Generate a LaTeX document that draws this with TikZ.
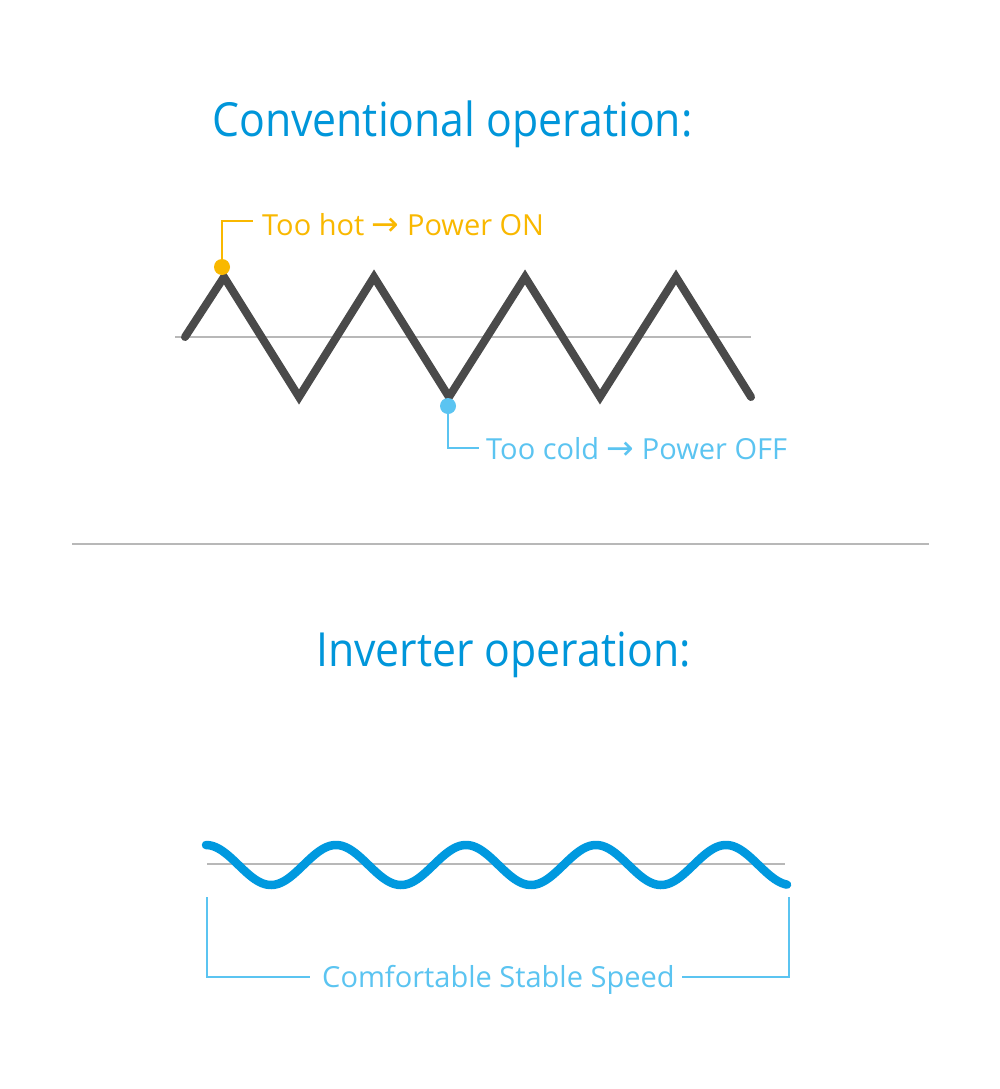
\documentclass[tikz,border=0pt]{standalone}
\usepackage{fontspec}
\setmainfont{Open Sans}
\newfontfamily\titlefont[FakeStretch=0.91]{Open Sans}
\newfontfamily\arrowfont{DejaVu Sans}
\definecolor{titleblue}{RGB}{0,150,218}
\definecolor{waveblue}{RGB}{0,153,223}
\definecolor{lightblue}{RGB}{91,196,241}
\definecolor{hotorange}{RGB}{249,184,0}
\definecolor{zigray}{RGB}{74,74,74}
\definecolor{axisgray}{RGB}{184,184,184}
\newcommand{\longarrow}{{\arrowfont\fontsize{33}{34}\selectfont →}}
\begin{document}
\begin{tikzpicture}[x=1pt,y=-1pt,
  titletext/.style={text=titleblue, font=\titlefont\fontsize{47}{50}\selectfont, inner sep=0pt, anchor=base west},
  lbl/.style={font=\fontsize{29}{34}\selectfont, inner sep=0pt, anchor=base west},
  dotnode/.style={circle, inner sep=0pt, minimum size=16pt},
  zig/.style={line width=8pt, draw=zigray, line cap=round, line join=miter},
  axisline/.style={line width=2pt, draw=axisgray},
  thin/.style={line width=2pt},
  wave/.style={line width=8.5pt, draw=waveblue, line cap=round}]
\useasboundingbox[fill=white] (0,0) rectangle (1000,1089);

% titles
\node[titletext] (t1) at (212,136) {Conventional operation:};
\node[titletext] (t2) at (316,666) {Inverter operation:};

% axis lines
\coordinate (a1) at (175,337);
\coordinate (a2) at (751,337);
\draw[axisline] (a1) -- (a2);

% zigzag
\coordinate (z0) at (185,337);
\coordinate (z1) at (224,277);
\coordinate (z2) at (299,397);
\coordinate (z3) at (374,277);
\coordinate (z4) at (449,397);
\coordinate (z5) at (525,277);
\coordinate (z6) at (600,397);
\coordinate (z7) at (676,277);
\coordinate (z8) at (751,397);
\draw[zig] (z0) -- (z1) -- (z2) -- (z3) -- (z4) -- (z5) -- (z6) -- (z7) -- (z8);

% hot marker
\node[dotnode, fill=hotorange] (hot) at (222,267) {};
\coordinate (hc) at (222,221);
\coordinate (he) at (253,221);
\draw[thin, hotorange] (hot.center) -- (hc) -- (he);
\node[lbl, text=hotorange] (hotl) at (262,235) {Too hot \longarrow\ Power ON};

% cold marker
\node[dotnode, fill=lightblue] (cold) at (448,406) {};
\coordinate (cc) at (448,448);
\coordinate (ce) at (479,448);
\draw[thin, lightblue] (cold.center) -- (cc) -- (ce);
\node[lbl, text=lightblue] (coldl) at (486,459) {Too cold \longarrow\ Power OFF};

% separator
\coordinate (s1) at (72,544);
\coordinate (s2) at (929,544);
\draw[axisline] (s1) -- (s2);

% inverter wave
\coordinate (w1) at (207,864);
\coordinate (w2) at (785,864);
\draw[axisline] (w1) -- (w2);
\draw[wave] plot[domain=206:787, samples=240, variable=\t] (\t, {865 - 20*cos((\t-206)/130*360)});

% bracket
\coordinate (b1) at (207,897);
\coordinate (b2) at (207,977);
\coordinate (b3) at (310,977);
\coordinate (b4) at (682,977);
\coordinate (b5) at (789,977);
\coordinate (b6) at (789,897);
\draw[thin, lightblue] (b1) -- (b2) -- (b3);
\draw[thin, lightblue] (b4) -- (b5) -- (b6);
\node[lbl, text=lightblue] (css) at (322,987) {Comfortable Stable Speed};
\end{tikzpicture}
\end{document}
